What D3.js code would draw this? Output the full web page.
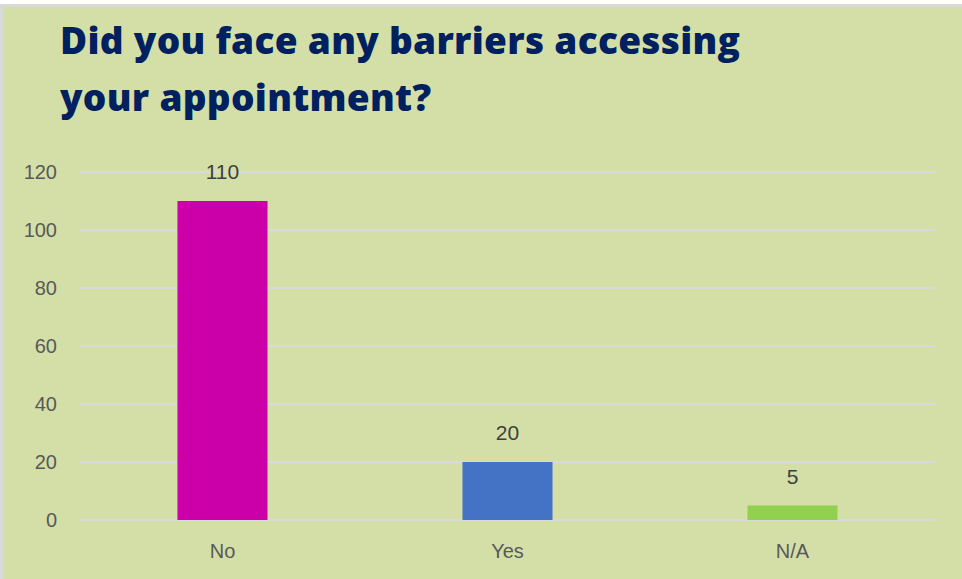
<!DOCTYPE html>
<html><head><meta charset="utf-8">
<script src="https://cdn.jsdelivr.net/npm/d3@7"></script>
<style>html,body{margin:0;padding:0;background:#fff;}svg{display:block;}</style>
</head><body>
<script>
const categories = ["No", "Yes", "N/A"];
const values = [110, 20, 5];
const colors = ["#cb00a9", "#4472c4", "#92d050"];
const yTicks = [0, 20, 40, 60, 80, 100, 120];
const titleLines = ["Did you face any barriers accessing", "your appointment?"];

const W = 962, H = 579;
const svg = d3.select("body").append("svg").attr("width", W).attr("height", H);

svg.append("rect").attr("x", 0).attr("y", 4).attr("width", W).attr("height", H - 4).attr("fill", "#d9d9d9");
svg.append("rect").attr("x", 3).attr("y", 7).attr("width", W - 3).attr("height", H - 7).attr("fill", "#d3dfa7");

const x = d3.scaleBand().domain(categories).range([80, 935]).paddingInner(0.684).paddingOuter(0.342);
const y = d3.scaleLinear().domain([0, 120]).range([520, 172]);

const grid = svg.append("g");
grid.selectAll("line").data(yTicks).join("line")
  .attr("x1", 80).attr("x2", 935)
  .attr("y1", d => y(d)).attr("y2", d => y(d))
  .attr("stroke", "#d9d9d9").attr("stroke-width", 2);

const yAxis = d3.axisLeft(y).tickValues(yTicks).tickSize(0).tickPadding(0);
const yg = svg.append("g").attr("transform", "translate(57,0)").call(yAxis);
yg.select(".domain").remove();
yg.selectAll("text").attr("fill", "#595959").attr("font-size", 20)
  .attr("font-family", "'Liberation Sans Narrow','Liberation Sans',Arial,sans-serif");

svg.append("g").selectAll("rect").data(values).join("rect")
  .attr("x", (d, i) => x(categories[i]))
  .attr("width", x.bandwidth())
  .attr("y", d => y(d))
  .attr("height", d => y(0) - y(d))
  .attr("fill", (d, i) => colors[i]);

svg.append("g").selectAll("text").data(values).join("text")
  .attr("x", (d, i) => x(categories[i]) + x.bandwidth() / 2)
  .attr("y", d => y(d) - 22)
  .attr("text-anchor", "middle")
  .attr("fill", "#404040").attr("font-size", 21)
  .attr("font-family", "'Liberation Sans Narrow','Liberation Sans',Arial,sans-serif")
  .text(d => d);

const xAxis = d3.axisBottom(x).tickSize(0).tickPadding(0);
const xg = svg.append("g").attr("transform", "translate(0,544)").call(xAxis);
xg.select(".domain").remove();
xg.selectAll("text").attr("fill", "#595959").attr("font-size", 20).attr("dy", "0.71em")
  .attr("font-family", "'Liberation Sans Narrow','Liberation Sans',Arial,sans-serif");

svg.append("g").selectAll("text").data(titleLines).join("text")
  .attr("x", 60).attr("y", (d, i) => 54 + i * 57)
  .attr("fill", "#002060").attr("font-size", 37).attr("font-weight", 800)
  .attr("letter-spacing", 0.3)
  .attr("font-family", "'Open Sans','Noto Sans',sans-serif")
  .text(d => d);
</script>
</body></html>
